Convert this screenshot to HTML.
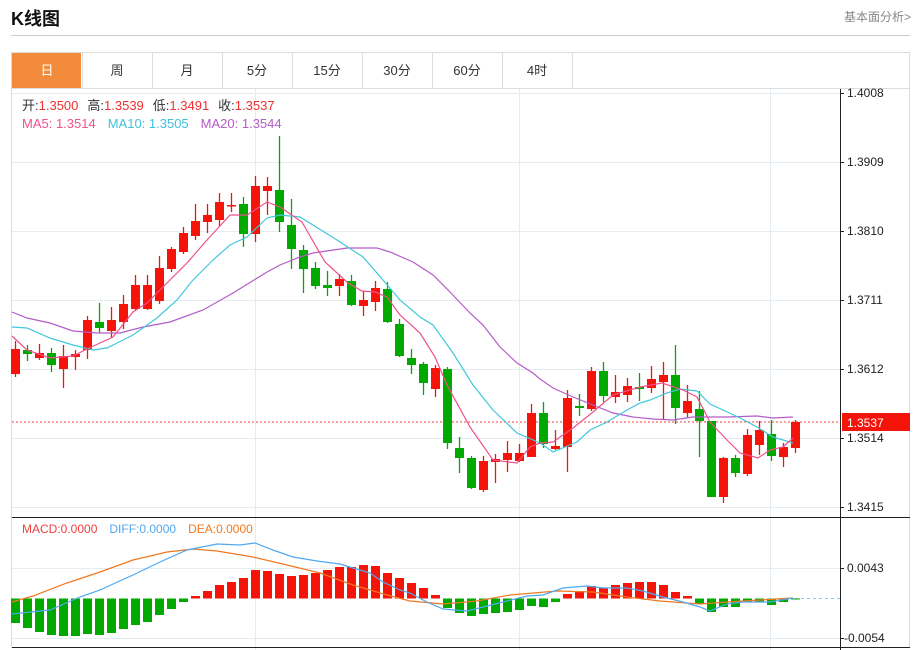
<!DOCTYPE html>
<html><head><meta charset="utf-8"><style>
body{margin:0;background:#fff;width:917px;height:650px;overflow:hidden;font-family:"Liberation Sans","Noto Sans CJK SC",sans-serif}
.t{position:absolute}
</style></head><body>
<div class="t" style="left:11px;top:5px;font-size:18px;font-weight:bold;color:#111">K线图</div>
<div class="t" style="right:6px;top:8px;font-size:12px;color:#888">基本面分析&gt;</div>
<div class="t" style="left:11px;top:35px;width:899px;height:1px;background:#ccc"></div>
<svg class="t" style="left:0;top:0" width="917" height="650" xmlns="http://www.w3.org/2000/svg" font-family="Liberation Sans, Noto Sans CJK SC, sans-serif">
<g id="tabs"></g>
<rect x="11.5" y="52.5" width="898" height="595" fill="none" stroke="#ddd"/>
<g stroke="#e3ebf3" stroke-width="1" id="grid"></g>
<line x1="840.5" y1="88" x2="840.5" y2="650" stroke="#222"/>
<line x1="12" y1="517.5" x2="910" y2="517.5" stroke="#222"/>
<line x1="12" y1="647.5" x2="910" y2="647.5" stroke="#222"/>
<line x1="12" y1="88.5" x2="910" y2="88.5" stroke="#ddd"/>
<g id="ticks" font-size="12" fill="#222"></g>
<line x1="12" y1="422" x2="840" y2="422" stroke="#f04040" stroke-dasharray="2,2"/>
<line x1="795" y1="598.5" x2="840" y2="598.5" stroke="#8cc8e8" stroke-dasharray="3,3"/>
<g id="c"></g>
<g id="h"></g>
<polyline fill="none" stroke="#b45cc8" stroke-width="1.2" points="12,312 27,318 50,323 73,331 97,333 120,333 143,327 170,322 203,310 233,293 267,272 280,265 300,257 313,253 347,248 377,248 390,252 413,262 433,275 450,292 470,313 483,325 500,347 517,363 533,373 540,379 553,388 573,397 593,405 613,413 633,417 653,419 673,420 693,417 727,417 757,416 773,418 793,417"/>
<polyline fill="none" stroke="#40c8dc" stroke-width="1.2" points="12,327 27,328 50,338 73,345 93,350 107,348 133,335 157,318 177,300 193,280 213,260 230,245 247,237 267,218 280,215 300,217 337,240 363,257 383,280 400,300 420,317 433,325 453,353 473,385 493,410 517,433 540,443 553,452 577,442 590,430 607,422 627,410 640,403 650,400 667,393 680,389 697,391 710,404 723,410 740,418 757,427 773,437 793,443"/>
<polyline fill="none" stroke="#f0508c" stroke-width="1.2" points="12,336 27,350 50,358 73,356 87,349 100,343 113,337 133,312 147,303 167,283 187,263 207,240 230,215 247,215 267,202 280,207 302,222 325,262 348,283 362,291 375,292 387,297 400,315 420,333 435,357 447,385 470,427 493,460 517,463 530,447 540,443 553,442 573,428 593,412 613,395 640,387 662,383 683,390 697,397 710,422 727,440 740,453 758,458 770,450 783,447 793,438"/>
<polyline fill="none" stroke="#f07820" stroke-width="1.2" points="12,602 33,596 67,583 100,572 133,560 167,552 193,549 217,551 253,557 287,565 320,573 353,585 387,595 410,601 443,604 477,601 510,595 557,591 593,592 627,597 660,601 700,604 727,602 760,600 793,598"/>
<polyline fill="none" stroke="#50a8f0" stroke-width="1.2" points="12,614 50,610 80,597 100,590 133,575 160,562 187,550 217,544 240,545 255,543 273,550 293,557 317,561 340,564 353,568 370,573 383,582 400,590 410,593 427,602 443,609 467,611 487,606 507,601 527,596 543,595 563,588 587,586 603,588 627,588 643,591 663,597 683,602 700,607 710,611 727,604 743,602 770,602 793,598"/>
<rect x="842" y="413" width="68" height="18" fill="#f5140a"/>
<text x="847" y="427" font-size="12" fill="#fff">1.3537</text>
<text x="22" y="110" font-size="13"><tspan fill="#333">开:</tspan><tspan fill="#f03030">1.3500</tspan><tspan fill="#333" dx="9">高:</tspan><tspan fill="#f03030">1.3539</tspan><tspan fill="#333" dx="9">低:</tspan><tspan fill="#f03030">1.3491</tspan><tspan fill="#333" dx="9">收:</tspan><tspan fill="#f03030">1.3537</tspan></text>
<text x="22" y="128" font-size="13"><tspan fill="#f0508c">MA5: 1.3514</tspan><tspan fill="#40c0dc" dx="12">MA10: 1.3505</tspan><tspan fill="#b45cc8" dx="12">MA20: 1.3544</tspan></text>
<text x="22" y="533" font-size="12"><tspan fill="#f04040">MACD:0.0000</tspan><tspan fill="#50a8f0" dx="12">DIFF:0.0000</tspan><tspan fill="#f07820" dx="12">DEA:0.0000</tspan></text>
</svg>
<script>
var NS="http://www.w3.org/2000/svg";
function el(p,t,a,txt){var e=document.createElementNS(NS,t);for(var k in a)e.setAttribute(k,a[k]);if(txt)e.textContent=txt;document.getElementById(p).appendChild(e);}
var tabs=["日","周","月","5分","15分","30分","60分","4时"];
tabs.forEach(function(s,i){var x=12+i*70;
 if(i==0)el("tabs","rect",{x:12,y:53,width:69,height:35,fill:"#f28c3c"});
 else el("tabs","line",{x1:x+0.5,y1:53,x2:x+0.5,y2:88,stroke:"#ddd"});
 el("tabs","text",{x:x+35,y:75,"font-size":13,"text-anchor":"middle",fill:i==0?"#fff":"#333"},s);});
el("tabs","line",{x1:572.5,y1:53,x2:572.5,y2:88,stroke:"#ddd"});
var pl=[[93,"1.4008"],[162,"1.3909"],[231,"1.3810"],[300,"1.3711"],[369,"1.3612"],[438,"1.3514"],[507,"1.3415"]];
pl.forEach(function(p){el("grid","line",{x1:12,y1:p[0]+.5,x2:840,y2:p[0]+.5});
 el("ticks","line",{x1:840,y1:p[0]+.5,x2:844,y2:p[0]+.5,stroke:"#222"});
 if(p[1]!="1.3514"||true)el("ticks","text",{x:847,y:p[0]+4},p[1]);});
[[568,"0.0043"],[638,"-0.0054"]].forEach(function(p){el("grid","line",{x1:12,y1:p[0]+.5,x2:840,y2:p[0]+.5});
 el("ticks","line",{x1:840,y1:p[0]+.5,x2:844,y2:p[0]+.5,stroke:"#222"});
 el("ticks","text",{x:p[1][0]=="-"?844:847,y:p[0]+4},p[1]);});
[255,519,770].forEach(function(x){el("grid","line",{x1:x+.5,y1:89,x2:x+.5,y2:650});});
var C=[["r",349,374,341,377],["g",350,354,345,361],["r",353,358,344,360],["g",353,365,348,372],["r",356,369,345,388],["r",354,357,350,370],["r",320,350,316,359],["g",322,328,303,333],["r",320,331,307,338],["r",304,322,295,329],["r",285,309,275,310],["r",285,309,275,310],["r",268,301,256,304],["r",249,269,247,272],["r",233,252,227,254],["r",221,236,204,240],["r",215,222,204,233],["r",202,220,193,227],["r",205,206,193,212],["g",204,234,197,247],["r",186,234,176,242],["r",186,191,177,215],["g",190,222,136,232],["g",225,249,199,269],["g",250,269,245,293],["g",268,286,262,289],["g",285,288,271,296],["r",279,286,274,296],["g",281,305,275,306],["r",300,306,291,316],["r",288,302,281,311],["g",289,322,282,323],["g",324,356,319,357],["g",358,365,349,374],["g",364,383,362,395],["r",368,389,365,397],["g",369,443,367,449],["g",448,458,437,473],["g",458,488,456,489],["r",461,490,456,492],["r",459,462,454,483],["r",453,460,441,472],["r",453,461,444,462],["r",413,457,404,457],["g",413,444,402,448],["r",446,449,430,450],["r",398,447,390,472],["g",406,408,394,416],["r",371,409,367,411],["g",371,396,362,402],["r",392,397,375,403],["r",386,395,378,402],["g",387,389,373,401],["r",379,388,366,393],["r",375,382,362,420],["g",375,408,345,424],["r",401,413,385,418],["g",409,421,391,457],["g",421,497,421,497],["r",458,497,457,503],["g",458,473,455,477],["r",435,474,429,476],["r",430,445,421,455],["g",434,456,420,461],["r",447,457,443,467],["r",422,448,420,453]];
C.forEach(function(c,i){var x=15.5+12*i,col=c[0]=="r"?"#f5140a":"#00a800";
 el("c","line",{x1:x,y1:c[3],x2:x,y2:c[4],stroke:col,"stroke-width":1.3});
 el("c","rect",{x:x-4.5,y:c[1],width:9,height:Math.max(1.5,c[2]-c[1]),fill:col});});
var H=[623,628,632,635,636,636,634,635,633,629,625,622,615,609,602,596,591,585,582,578,570,571,574,576,575,573,570,567,567,565,566,573,578,583,588,595,608,613,616,614,613,612,610,606,607,602,594,591,586,588,585,583,582,582,585,592,596,604,612,607,607,602,602,605,602,599];
H.forEach(function(v,i){var x=15.5+12*i,z=598.5,up=v<z;
 el("h","rect",{x:x-4.5,y:Math.min(v,z),width:9,height:Math.max(1,Math.abs(v-z)),fill:up?"#f5140a":"#00a800"});});
</script>
</body></html>
